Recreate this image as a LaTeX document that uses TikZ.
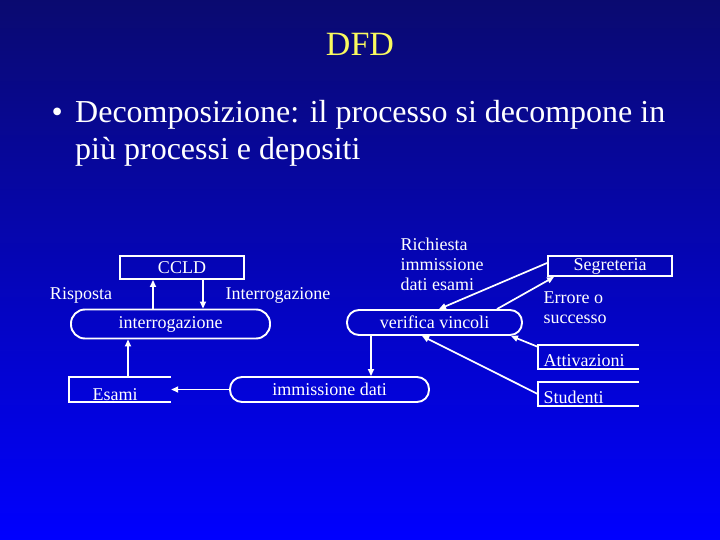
\documentclass[tikz,border=0pt]{standalone}
\usepackage{fontspec}
\setmainfont{Liberation Serif}
\usetikzlibrary{arrows.meta,calc,positioning}
\definecolor{slidetop}{RGB}{10,10,112}
\definecolor{slidemid}{RGB}{3,3,196}
\definecolor{slidebot}{RGB}{0,0,255}
\definecolor{titleyellow}{RGB}{250,250,95}

\begin{document}
\begin{tikzpicture}[x=1pt, y=-1pt,
  every node/.style={font=\fontsize{18}{20}\selectfont, text=white},
  proc/.style={draw=white, line width=1.9pt, inner sep=0pt},
  entity/.style={draw=white, line width=1.9pt, inner sep=0pt},
  store/.style={inner sep=0pt, minimum width=101pt, minimum height=24pt},
  storeline/.style={draw=white, line width=1.9pt},
  flow/.style={draw=white, line width=1.7pt, -{Triangle[length=7pt,width=6pt]}}]
  % slide background (dark navy at the top, pure blue at the bottom)
  \shade[top color=slidetop, middle color=slidemid, bottom color=slidebot] (0,0) rectangle (720,540);
  \useasboundingbox (0,0) rectangle (720,540);

  % title and bullet
  \node[font=\fontsize{34}{40}\selectfont, text=titleyellow] (title) at (360,44.5) {DFD};
  \node[font=\fontsize{32}{37}\selectfont, anchor=base west] (bullet) at (48,123) {\textbullet};
  \node[font=\fontsize{32}{37}\selectfont, anchor=base west, align=left, inner sep=0pt]
    (intro) at (75,160) {Decomposizione: il processo si decompone in\\più processi e depositi};

  % processes
  \node[proc, rounded corners=14pt, minimum width=199pt, minimum height=29pt] (intp) at (170.5,324) {interrogazione};
  \node[proc, rounded corners=12pt, minimum width=175pt, minimum height=25pt] (verp) at (434.5,322.5) {verifica vincoli};
  \node[proc, rounded corners=12pt, minimum width=199pt, minimum height=25pt] (immp) at (329.5,389.5) {immissione dati};

  % external entities
  \node[entity, minimum width=124pt, minimum height=23pt] (ccld) at (182,267.5) {CCLD};
  \node[entity, minimum width=124pt, minimum height=20pt] (segr) at (610,266) {Segreteria};

  % data stores (open on the right)
  \node[store, minimum width=102pt, minimum height=25pt] (esami) at (120,389.5) {};
  \node[store] (attiv) at (588.5,357) {};
  \node[store] (stud) at (588.5,394) {};
  \foreach \s in {esami,attiv,stud}{
    \draw[storeline] (\s.north east) -- (\s.north west) -- (\s.south west) -- (\s.south east);
  }
  \node[anchor=base west] (esamitxt) at (89,400) {Esami};
  \node[anchor=base west] (attivtxt) at (540,366) {Attivazioni};
  \node[anchor=base west] (studtxt) at (540,403) {Studenti};

  % flow labels
  \node (risp) at (81,295) {Risposta};
  \node (interr) at (278,295) {Interrogazione};
  \node[anchor=west, align=left] (rich) at (397,264) {Richiesta\\immissione\\dati esami};
  \node[anchor=west, align=left] (esito) at (540,307.5) {Errore o\\successo};

  % flows
  \draw[flow] ([xshift=-29pt]ccld.south |- intp.north) -- ([xshift=-29pt]ccld.south);
  \draw[flow] ([xshift=21pt]ccld.south) -- ([xshift=21pt]ccld.south |- intp.north);
  \draw[flow] ([xshift=8pt]esami.north) -- ([xshift=8pt]esami.north |- intp.south);
  \draw[flow] (immp.west) -- (esami.east);
  \draw[flow] ([xshift=-63.5pt]verp.south) -- ([xshift=-63.5pt]verp.south |- immp.north);
  \draw[flow] ([yshift=3pt]segr.west) -- ([xshift=4.5pt]verp.north);
  \draw[flow] ([xshift=62.5pt]verp.north) -- ([xshift=7pt]segr.south west);
  \draw[flow] ([yshift=-2pt]attiv.north west) -- ([xshift=-12pt]verp.south east);
  \draw[flow] (stud.west) -- ([xshift=-12.5pt]verp.south);
\end{tikzpicture}
\end{document}
